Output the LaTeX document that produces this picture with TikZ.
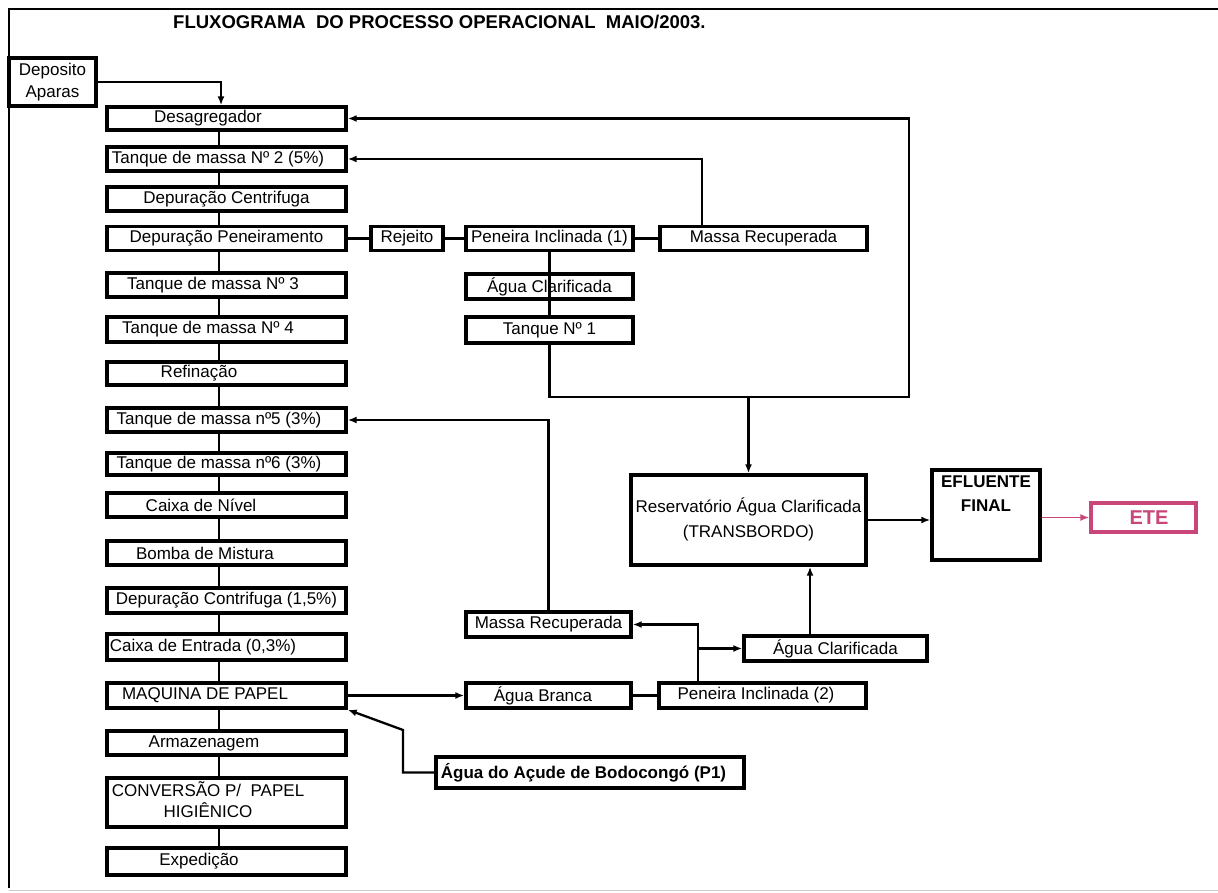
\documentclass[tikz,border=0pt]{standalone}
\usepackage{fontspec}
\setmainfont{Liberation Sans}
\usetikzlibrary{arrows.meta}
\definecolor{etepink}{RGB}{200,70,120}
\newcommand\fsz{\fontsize{17}{20}\selectfont}
\tikzset{
  bx/.style 2 args={draw=black, line width=3.4pt, inner sep=0pt, minimum width=#1, minimum height=#2, font=\fsz, fill=white},
  tl/.style={execute at end node={\hspace*{#1}}},
  tr/.style={execute at begin node={\hspace*{#1}}},
  con/.style={line width=2.3pt},
  arr/.style={con, -{Latex[length=9pt,width=7pt]}},
  frame/.style={line width=1.8pt},
}
\begin{document}
\begin{tikzpicture}[x=1pt,y=-1pt]
\useasboundingbox (0,0) rectangle (1218,893);
% frame
\coordinate (ftl) at (9,9);
\coordinate (ftr) at (1218,9);
\coordinate (fbl) at (9,888);
\coordinate (fbb) at (9,890);
\coordinate (fbr) at (1218,890);
\draw[frame] (fbl) -- (ftl) -- (ftr);
\draw[black!20, line width=1pt] (fbb) -- (fbr);
% title
\node[anchor=base west, inner sep=0pt, font=\fontsize{18.5}{22}\selectfont\bfseries] (title) at (173,28.5)
  {FLUXOGRAMA\ \ DO PROCESSO OPERACIONAL\ \ MAIO/2003.};
% deposito
\node[bx={87pt}{48pt}, align=center, font=\fontsize{17}{22}\selectfont] (dep) at (52.5,82) {Deposito\\Aparas};
% left column
\node[bx={239pt}{23pt}, tl=37pt] (desag) at (226.5,118.5) {Desagregador};
\node[bx={239pt}{24pt}, tl=17pt] (tq2) at (226.5,159) {Tanque de massa Nº 2 (5\%)};
\node[bx={239pt}{24pt}] (depc) at (226.5,199) {Depuração Centrifuga};
\node[bx={239pt}{24pt}] (depp) at (226.5,238.5) {Depuração Peneiramento};
\node[bx={239pt}{24pt}, tl=27pt] (tq3) at (226.5,285) {Tanque de massa Nº 3};
\node[bx={239pt}{25pt}, tl=37pt] (tq4) at (226.5,329.5) {Tanque de massa Nº 4};
\node[bx={239pt}{23pt}, tl=55pt] (ref) at (226.5,373.5) {Refinação};
\node[bx={239pt}{24pt}, tl=15pt] (tq5) at (226.5,420) {Tanque de massa nº5 (3\%)};
\node[bx={239pt}{22pt}, tl=15pt] (tq6) at (226.5,464) {Tanque de massa nº6 (3\%)};
\node[bx={239pt}{24pt}, tl=51pt] (cxn) at (226.5,505) {Caixa de Nível};
\node[bx={239pt}{24pt}, tl=43pt] (bomba) at (226.5,553) {Bomba de Mistura};
\node[bx={239pt}{25pt}] (depc2) at (226.5,600.5) {Depuração Contrifuga (1,5\%)};
\node[bx={239pt}{26pt}, tl=47pt] (cxe) at (226.5,647) {Caixa de Entrada (0,3\%)};
\node[bx={239pt}{25pt}, tl=43pt] (maq) at (226.5,695.5) {MAQUINA DE PAPEL};
\node[bx={239pt}{24pt}, tl=45pt] (arm) at (226.5,743) {Armazenagem};
\node[bx={239pt}{49pt}, tl=37pt, font=\fontsize{17}{21}\selectfont] (conv) at (226.5,802.5)
  {\begin{tabular}{@{}c@{}}CONVERSÃO P/\ \ PAPEL\\HIGIÊNICO\end{tabular}};
\node[bx={239pt}{27pt}, tl=55pt] (exp) at (226.5,861.5) {Expedição};
% middle upper
\node[bx={72pt}{24pt}] (rej) at (407,238.5) {Rejeito};
\node[bx={167pt}{24pt}] (pen1) at (549.5,238.5) {Peneira Inclinada (1)};
\node[bx={207pt}{24pt}] (mr1) at (763.5,238.5) {Massa Recuperada};
\node[bx={167pt}{25pt}] (ac1) at (549.5,286.5) {Água Clarificada};
\node[bx={167pt}{26pt}] (tn1) at (549.5,330) {Tanque Nº 1};
% reservoir etc.
\node[bx={235pt}{90pt}, font=\fontsize{17}{25}\selectfont] (res) at (748.5,520)
  {\begin{tabular}{@{}c@{}}Reservatório Água Clarificada\\(TRANSBORDO)\end{tabular}};
\node[bx={108pt}{90pt}, font=\fontsize{17}{24}\selectfont\bfseries] (efl) at (986,515)
  {\begin{tabular}{@{}c@{}}EFLUENTE\\FINAL\\[40pt]\end{tabular}};
\node[bx={105pt}{29pt}, draw=etepink, text=etepink, font=\fontsize{20}{24}\selectfont\bfseries, tr=11pt] (ete) at (1143.5,517.5) {ETE};
% lower middle
\node[bx={165pt}{25pt}] (mr2) at (548.5,624.5) {Massa Recuperada};
\node[bx={183pt}{25pt}] (ac2) at (835.5,648.5) {Água Clarificada};
\node[bx={165pt}{25pt}, tl=11pt] (ab) at (548.5,695.5) {Água Branca};
\node[bx={207pt}{25pt}, tl=13pt] (pen2) at (762.5,695.5) {Peneira Inclinada (2)};
\node[bx={308pt}{31pt}, tl=13pt, font=\fsz\bfseries] (acude) at (590,772.5) {Água do Açude de Bodocongó (P1)};
% helper coordinates
\coordinate (cx) at (219,0);
\coordinate (rt) at (909,397);
\coordinate (bend) at (403,730);
% connectors
\draw[arr] (dep.east) -| ([xshift=-5.5pt]desag.north);
\foreach \a/\b in {desag/tq2,tq2/depc,depc/depp,depp/tq3,tq3/tq4,tq4/ref,ref/tq5,tq5/tq6,tq6/cxn,cxn/bomba,bomba/depc2,depc2/cxe,cxe/maq,maq/arm,arm/conv,conv/exp}
  \draw[con] (\a.south -| cx) -- (\b.north -| cx);
\draw[con] (depp.east) -- (rej.west);
\draw[con] (rej.east) -- (pen1.west);
\draw[con] (pen1.east) -- (mr1.west);
\draw[con] (pen1.south) -- (tn1.north);
\draw[arr] ([xshift=-61.5pt]mr1.north) |- (tq2.east);
\draw[arr] (tn1.south) |- (rt) |- (desag.east);
\draw[arr] (res.north |- rt) -- (res.north);
\draw[arr] (res.east) -- (efl.west |- res.east);
\draw[con, draw=etepink, line width=1.5pt, -{Latex[length=9pt,width=7pt]}] (efl.east |- ete.west) -- (ete.west);
\draw[arr] (maq.east) -- (ab.west);
\draw[con] (ab.east) -- (pen2.west);
\draw[arr] ([xshift=-64.5pt]pen2.north) |- (mr2.east);
\draw[arr] ([xshift=-64.5pt]pen2.north |- ac2.west) -- (ac2.west);
\draw[arr] ([xshift=-25.5pt]ac2.north) -- ([xshift=-25.5pt]ac2.north |- res.south);
\draw[arr] (mr2.north) |- (tq5.east);
\draw[arr] (acude.west) -| (bend) -- (maq.south east);
\end{tikzpicture}
\end{document}
